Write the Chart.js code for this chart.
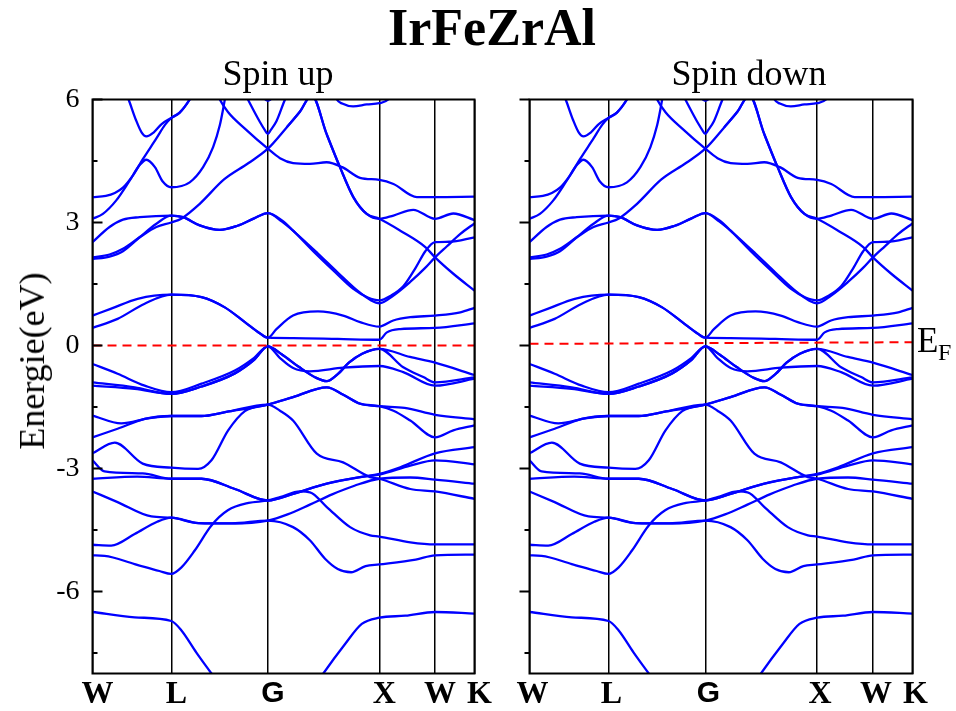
<!DOCTYPE html>
<html><head><meta charset="utf-8">
<script src="https://cdn.jsdelivr.net/npm/chart.js@4.4.0/dist/chart.umd.min.js"></script>
<style>
html,body{margin:0;padding:0;background:#fff;}
#wrap{position:relative;width:956px;height:711px;overflow:hidden;background:#fff;}
canvas{position:absolute;left:0;top:0;}
.t{position:absolute;font-family:'Liberation Serif','Times New Roman',serif;color:#000;white-space:nowrap;}
</style></head><body>
<div id="wrap">
<canvas id="cUp" width="956" height="711"></canvas>
<canvas id="cDown" width="956" height="711"></canvas>
<div class="t" style="left:492px;top:2px;font-size:52px;line-height:52px;font-weight:bold;transform:translateX(-50%);">IrFeZrAl</div>
<div class="t" style="left:278px;top:55px;font-size:36px;line-height:36px;transform:translateX(-50%);">Spin up</div>
<div class="t" style="left:749px;top:55px;font-size:36px;line-height:36px;transform:translateX(-50%);">Spin down</div>
<div class="t" style="left:32px;top:361px;font-size:36px;line-height:36px;transform:translate(-50%,-50%) rotate(-90deg);">Energie(eV)</div>
<div class="t" style="left:917px;top:323px;font-size:35px;line-height:35px;">E</div>
<div class="t" style="left:938px;top:340px;font-size:24px;line-height:24px;">F</div>
</div>
<script>
// high-symmetry path positions and labels
const kTicks = [0, 0.707, 1.573, 2.573, 3.073, 3.427];
const kLabels = ['W', 'L', 'G', 'X', 'W', 'K'];
const yTicks = [-6, -3, 0, 3, 6];
const yMinorTicks = [-7.5, -4.5, -1.5, 1.5, 4.5];
const fermiUp = [[0, 0], [3.427, 0]];
const fermiDown = [[0, 0.04], [3.427, 0.08]];

// bands: [k, E(eV)]
const band01 = [[0,-6.5],[0.378,-6.63],[0.707,-6.72],[0.798,-6.95],[0.932,-7.49],[1.067,-8.0],[1.2,-8.5],[1.573,-9.2],[1.95,-8.5],[2.071,-8.0],[2.266,-7.28],[2.416,-6.79],[2.573,-6.64],[2.806,-6.59],[3.073,-6.5],[3.427,-6.54]];
const band02 = [[0,-5.12],[0.108,-5.13],[0.378,-5.33],[0.6,-5.5],[0.707,-5.57],[0.798,-5.41],[0.917,-5.0],[1.067,-4.39],[1.214,-4.02],[1.4,-3.84],[1.573,-3.78],[1.682,-3.7],[1.862,-3.56],[1.951,-3.58],[2.102,-3.94],[2.311,-4.43],[2.491,-4.63],[2.573,-4.66],[2.851,-4.8],[3.073,-4.85],[3.427,-4.85]];
const band03 = [[0,-4.86],[0.168,-4.88],[0.378,-4.6],[0.58,-4.3],[0.707,-4.2],[0.95,-4.33],[1.25,-4.34],[1.573,-4.27],[1.799,-4.43],[1.95,-4.75],[2.086,-5.2],[2.2,-5.45],[2.32,-5.53],[2.45,-5.38],[2.573,-5.34],[2.9,-5.22],[3.073,-5.12],[3.427,-5.1]];
const band04 = [[0,-3.56],[0.225,-3.82],[0.528,-4.17],[0.707,-4.2],[0.95,-4.33],[1.25,-4.34],[1.573,-4.27],[1.75,-4.12],[1.95,-3.88],[2.15,-3.63],[2.35,-3.42],[2.573,-3.25],[2.85,-3.22],[3.073,-3.27],[3.427,-3.37]];
const band05 = [[0,-3.25],[0.4,-3.2],[0.707,-3.25],[0.978,-3.25],[1.277,-3.5],[1.573,-3.78],[1.799,-3.62],[2.102,-3.37],[2.401,-3.21],[2.573,-3.13],[2.761,-2.97],[3.073,-2.63],[3.427,-2.48]];
const band06 = [[0,-2.8],[0.108,-3.07],[0.45,-3.12],[0.707,-3.25],[0.978,-3.25],[1.277,-3.5],[1.573,-3.78],[1.799,-3.62],[2.102,-3.37],[2.401,-3.21],[2.573,-3.15],[2.851,-2.93],[3.073,-2.8],[3.427,-2.9]];
const band07 = [[0,-2.63],[0.2,-2.37],[0.45,-2.88],[0.707,-2.98],[0.947,-3.01],[1.067,-2.8],[1.217,-2.07],[1.367,-1.6],[1.573,-1.44],[1.799,-1.26],[2.102,-1.02],[2.25,-1.2],[2.401,-1.42],[2.573,-1.48],[2.7,-1.59],[2.851,-1.83],[3.073,-2.24],[3.237,-2.07],[3.427,-1.95]];
const band08 = [[0,-2.24],[0.225,-2.03],[0.468,-1.79],[0.707,-1.72],[0.978,-1.72],[1.2,-1.62],[1.573,-1.44],[1.682,-1.59],[1.799,-1.83],[2.012,-2.64],[2.248,-2.85],[2.491,-3.21],[2.573,-3.25],[2.851,-3.5],[3.073,-3.56],[3.427,-3.74]];
const band09 = [[0,-1.71],[0.258,-1.9],[0.5,-1.78],[0.707,-1.72],[0.978,-1.72],[1.2,-1.62],[1.573,-1.44],[1.799,-1.26],[2.102,-1.02],[2.25,-1.2],[2.401,-1.42],[2.573,-1.48],[2.8,-1.52],[3.073,-1.69],[3.427,-1.8]];
const band10 = [[0,-0.45],[0.225,-0.69],[0.468,-0.98],[0.707,-1.14],[0.978,-0.93],[1.277,-0.61],[1.45,-0.3],[1.573,-0.02],[1.68,-0.3],[1.8,-0.55],[1.95,-0.63],[2.25,-0.54],[2.573,-0.5],[2.788,-0.65],[3.073,-0.98],[3.427,-0.81]];
const band11 = [[0,-0.9],[0.378,-1.02],[0.707,-1.18],[0.978,-1.0],[1.277,-0.68],[1.45,-0.35],[1.573,-0.02],[1.7,-0.22],[1.85,-0.52],[2.0,-0.78],[2.102,-0.87],[2.2,-0.7],[2.3,-0.42],[2.419,-0.2],[2.573,-0.08],[2.848,-0.28],[3.073,-0.42],[3.427,-0.72]];
const band12 = [[0,-0.98],[0.378,-1.06],[0.707,-1.18],[0.978,-1.0],[1.277,-0.68],[1.45,-0.35],[1.573,-0.02],[1.7,-0.22],[1.85,-0.52],[2.0,-0.78],[2.102,-0.87],[2.2,-0.7],[2.3,-0.42],[2.419,-0.2],[2.573,-0.08],[2.788,-0.53],[2.968,-0.77],[3.073,-0.9],[3.427,-0.78]];
const band13 = [[0,0.73],[0.168,0.9],[0.405,1.14],[0.707,1.24],[0.978,1.18],[1.187,0.93],[1.367,0.57],[1.5,0.3],[1.573,0.19],[1.65,0.4],[1.799,0.73],[2.023,0.83],[2.248,0.73],[2.401,0.57],[2.573,0.46],[2.698,0.61],[2.851,0.69],[3.073,0.73],[3.3,0.81],[3.427,0.92]];
const band14 = [[0,0.43],[0.225,0.65],[0.468,1.02],[0.707,1.24],[0.978,1.18],[1.187,0.93],[1.367,0.57],[1.5,0.3],[1.573,0.19],[1.8,0.18],[2.2,0.16],[2.573,0.14],[2.641,0.32],[2.761,0.4],[3.073,0.43],[3.427,0.54]];
const band15 = [[0,2.52],[0.153,2.89],[0.273,3.07],[0.423,3.13],[0.707,3.17],[0.812,3.13],[0.962,2.93],[1.142,2.82],[1.3,2.92],[1.45,3.1],[1.573,3.23],[1.7,3.05],[1.8,2.8],[1.98,2.3],[2.16,1.83],[2.34,1.38],[2.47,1.17],[2.573,1.1],[2.68,1.22],[2.79,1.45],[2.9,1.9],[2.986,2.3],[3.073,2.52],[3.2,2.53],[3.427,2.64]];
const band16 = [[0,2.11],[0.153,2.17],[0.273,2.3],[0.423,2.64],[0.573,2.97],[0.707,3.17],[0.812,3.13],[0.962,2.93],[1.142,2.82],[1.3,2.92],[1.45,3.1],[1.573,3.23],[1.7,3.02],[1.82,2.75],[2.02,2.25],[2.2,1.78],[2.38,1.33],[2.5,1.1],[2.573,1.03],[2.7,1.22],[2.85,1.55],[2.98,1.88],[3.073,2.15],[3.18,2.42],[3.3,2.72],[3.427,2.98]];
const band17 = [[0,2.15],[0.153,2.22],[0.273,2.36],[0.423,2.64],[0.573,2.89],[0.707,3.0],[0.8,3.1],[0.96,3.45],[1.18,4.05],[1.4,4.45],[1.573,4.8],[1.742,5.32],[1.86,5.7],[1.967,6.1],[2.1,5.16],[2.22,4.35],[2.34,3.62],[2.46,3.21],[2.573,3.09],[2.7,3.17],[2.878,3.31],[3.073,3.09],[3.237,3.22],[3.427,3.06]];
const band18 = [[1.08,6.4],[1.142,6.0],[1.217,5.69],[1.367,5.29],[1.573,4.8],[1.682,4.57],[1.8,4.45],[1.95,4.43],[2.1,4.47],[2.24,4.35],[2.4,4.09],[2.573,4.04],[2.7,3.94],[2.91,3.62],[3.073,3.62],[3.427,3.63]];
const band19 = [[1.742,5.32],[1.86,5.7],[1.967,6.1],[2.1,5.16],[2.22,4.35],[2.34,3.62],[2.46,3.21],[2.573,3.09],[2.761,2.8],[2.986,2.4],[3.073,2.15],[3.237,1.75],[3.427,1.34]];
const band20 = [[1.3,6.5],[1.394,6.0],[1.502,5.45],[1.545,5.26],[1.573,5.16],[1.6,5.26],[1.65,5.47],[1.727,6.0],[1.8,6.4]];
const band21 = [[0.25,6.5],[0.324,6.0],[0.39,5.5],[0.44,5.2],[0.483,5.1],[0.55,5.2],[0.62,5.4],[0.707,5.55],[0.782,5.68],[0.872,6.0],[0.95,6.4]];
const band22 = [[0,3.62],[0.12,3.65],[0.2,3.72],[0.273,3.85],[0.363,4.15],[0.453,4.55],[0.573,5.05],[0.65,5.38],[0.707,5.55],[0.782,5.68],[0.872,6.0],[0.95,6.4]];
const band23 = [[0,3.09],[0.093,3.21],[0.213,3.54],[0.333,4.02],[0.423,4.4],[0.483,4.53],[0.56,4.35],[0.63,4.0],[0.707,3.86],[0.872,3.98],[0.992,4.35],[1.082,4.84],[1.142,5.37],[1.172,5.77],[1.2,6.2],[1.23,6.6]];
const band24 = [[1.45,6.35],[1.52,6.08],[1.573,5.97],[1.63,6.08],[1.7,6.35]];
const band25 = [[2.15,6.3],[2.192,6.0],[2.24,5.9],[2.338,5.83],[2.461,5.88],[2.573,5.91],[2.653,6.0],[2.7,6.2]];

const bandsUp = [band01,band02,band03,band04,band05,band06,band07,band08,band09,band10,band11,band12,band13,band14,band15,band16,band17,band18,band19,band20,band21,band22,band23,band24,band25];
const bandsDown = bandsUp;

const framePlugin = {
  id: 'frame',
  afterDraw(chart, args, opts) {
    const ctx = chart.ctx, a = chart.chartArea, y = chart.scales.y;
    ctx.save();
    ctx.strokeStyle = '#000';
    ctx.lineWidth = 2;
    ctx.strokeRect(a.left, a.top, a.right - a.left, a.bottom - a.top);
    const dir = opts.outward ? -1 : 1;
    const tick = (v, len) => {
      const py = y.getPixelForValue(v);
      ctx.beginPath();
      ctx.moveTo(a.left, py);
      ctx.lineTo(a.left + dir * len, py);
      ctx.stroke();
    };
    yTicks.forEach(v => tick(v, 10));
    yMinorTicks.forEach(v => tick(v, 5));
    ctx.restore();
  }
};

function makeChart(id, bands, fermi, cfg) {
  const datasets = [{
    data: fermi.map(([x, y]) => ({x, y})),
    borderColor: '#ff0000', borderWidth: 2, borderDash: [9, 6],
    pointRadius: 0, tension: 0, fill: false
  }];
  bands.forEach(b => datasets.push({
    data: b.map(([x, y]) => ({x, y})),
    borderColor: '#0000ff', borderWidth: 2.3, pointRadius: 0,
    cubicInterpolationMode: 'monotone', fill: false
  }));
  const yScale = {
    type: 'linear', min: -8, max: 6, display: cfg.showY,
    afterBuildTicks: s => { s.ticks = yTicks.map(v => ({value: v})); },
    grid: {display: false, drawTicks: false},
    border: {display: false},
    ticks: {padding: 13, color: '#000', font: {family: 'Liberation Serif', size: 28}, callback: v => String(v)}
  };
  if (cfg.showY) yScale.afterFit = s => { s.width = cfg.yWidth; };
  return new Chart(document.getElementById(id), {
    type: 'line',
    data: {datasets},
    options: {
      responsive: false, animation: false, events: [],
      layout: {padding: cfg.padding},
      plugins: {legend: {display: false}, tooltip: {enabled: false}, frame: {outward: cfg.outward}},
      scales: {
        x: {
          type: 'linear', min: 0, max: 3.427,
          afterBuildTicks: s => { s.ticks = kTicks.map(v => ({value: v})); },
          afterFit: s => { s.height = 37.5; },
          grid: {color: '#000', lineWidth: 1.5, drawTicks: false},
          border: {display: false},
          ticks: {
            autoSkip: false, maxRotation: 0, minRotation: 0, padding: 2,
            labelOffset: cfg.labelOffset, color: '#000',
            callback: (v, i) => kLabels[i],
            font: c => (kLabels[c.index] === 'G'
              ? {family: 'Liberation Sans', size: 30, weight: 'bold'}
              : {family: 'Liberation Serif', size: 32, weight: 'bold'})
          }
        },
        y: yScale
      }
    },
    plugins: [framePlugin]
  });
}

makeChart('cUp', bandsUp, fermiUp, {showY: true, yWidth: 92.5, outward: false, labelOffset: 5,
  padding: {left: 0, right: 481.5, top: 99.5, bottom: 0}});
makeChart('cDown', bandsDown, fermiDown, {showY: false, outward: true, labelOffset: 3,
  padding: {left: 529.5, right: 43.5, top: 99.5, bottom: 0}});
</script>
</body></html>
